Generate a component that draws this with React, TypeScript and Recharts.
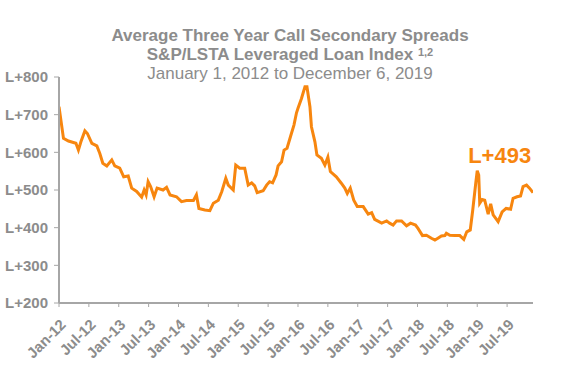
import { LineChart, Line, XAxis, YAxis, ReferenceDot } from "recharts";

// months since Jan 1, 2012
const months = [
  0, 0.9, 1.9, 3.4, 3.9, 4.4, 5.2, 5.7, 6.6, 7.6, 8.2, 8.8, 9.6, 10.6, 11.2,
  12.2, 13.0, 13.9, 14.6, 15.6, 16.6, 17.1, 17.5, 17.9, 18.4, 19.1, 19.7, 20.9,
  21.6, 22.3, 23.6, 24.6, 25.6, 27.0, 27.6, 28.1, 29.3, 30.3, 31.0, 32.0, 32.7,
  33.5, 34.0, 35.0, 35.5, 36.3, 37.3, 38.0, 38.7, 39.3, 39.8, 41.0, 41.7, 42.3,
  42.9, 43.6, 44.0, 44.7, 45.2, 45.8, 46.5, 47.2, 47.7, 48.0, 48.7, 49.4, 49.8,
  50.4, 50.7, 51.4, 51.8, 52.7, 53.4, 54.0, 54.5, 55.7, 56.7, 57.4, 57.9, 58.5,
  59.2, 59.9, 61.1, 62.1, 62.8, 63.4, 64.8, 65.8, 66.4, 67.1, 67.8, 68.8, 69.8,
  70.6, 71.6, 72.1, 73.0, 73.8, 74.8, 75.5, 76.1, 76.8, 77.5, 77.8, 78.5, 79.5,
  80.5, 81.3, 81.9, 82.6, 83.1, 83.7, 84.0, 84.3, 84.5, 85.0, 85.5, 86.2, 86.7,
  87.2, 88.2, 89.0, 89.8, 90.7, 91.2, 92.0, 92.7, 93.2, 93.9, 94.5, 95.2,
];

const spreads = [
  721, 637, 630, 624, 606, 628, 657, 650, 624, 617, 597, 571, 564, 580, 564,
  558, 535, 537, 505, 496, 481, 500, 487, 522, 509, 482, 505, 500, 507, 487,
  482, 469, 472, 472, 487, 451, 447, 445, 465, 473, 496, 531, 513, 500, 566,
  558, 558, 513, 519, 511, 493, 498, 513, 522, 519, 540, 564, 575, 606, 611,
  642, 673, 705, 717, 743, 774, 774, 721, 668, 628, 593, 584, 566, 587, 549,
  535, 518, 505, 491, 505, 473, 456, 456, 436, 440, 422, 412, 418, 412, 407,
  418, 418, 405, 412, 407, 398, 379, 380, 372, 367, 372, 378, 379, 385, 380,
  379, 379, 369, 389, 394, 447, 518, 551, 540, 465, 475, 473, 436, 463, 434,
  416, 442, 451, 449, 478, 482, 484, 509, 513, 505, 493,
];

const yTicks = [200, 300, 400, 500, 600, 700, 800];
const xTicks = [0, 6, 12, 18, 24, 30, 36, 42, 48, 54, 60, 66, 72, 78, 84, 90];
const xLabels = [
  "Jan-12", "Jul-12", "Jan-13", "Jul-13", "Jan-14", "Jul-14", "Jan-15", "Jul-15",
  "Jan-16", "Jul-16", "Jan-17", "Jul-17", "Jan-18", "Jul-18", "Jan-19", "Jul-19",
];

const data = months.map((m, i) => ({ m, spread: spreads[i] }));

const GRAY = "#8c8c8c";
const AXIS = "#a6a6a6";
const ORANGE = "#f7860f";
const FONT = "'Liberation Sans', Arial, sans-serif";

function XTick({ x, y, payload }: any) {
  const label = xLabels[xTicks.indexOf(payload.value)] ?? "";
  return (
    <g transform={`translate(${x + 4},${y + 13})`}>
      <text
        x={0}
        y={0}
        textAnchor="end"
        transform="rotate(-45)"
        fill={GRAY}
        fontSize={15}
        fontWeight="bold"
        fontFamily={FONT}
        dy="0.35em"
      >
        {label}
      </text>
    </g>
  );
}

export default function App() {
  return (
    <div
      style={{
        position: "absolute",
        left: 0,
        top: 0,
        width: 568,
        height: 382,
        background: "#fff",
        fontFamily: FONT,
      }}
    >
      <div
        style={{
          position: "absolute",
          left: 0,
          width: 580,
          top: 26,
          textAlign: "center",
          color: GRAY,
          lineHeight: "19px",
        }}
      >
        <div style={{ fontSize: 17, fontWeight: "bold" }}>
          Average Three Year Call Secondary Spreads
        </div>
        <div style={{ fontSize: 17, fontWeight: "bold" }}>
          S&amp;P/LSTA Leveraged Loan Index{" "}
          <span
            style={{
              fontSize: 11,
              position: "relative",
              top: -4,
              lineHeight: "11px",
              display: "inline-block",
            }}
          >
            1,2
          </span>
        </div>
        <div style={{ fontSize: 17 }}>January 1, 2012 to December 6, 2019</div>
      </div>
      <LineChart
        width={568}
        height={382}
        data={data}
        margin={{ top: 77, right: 35, bottom: 19, left: 0 }}
      >
        <XAxis
          dataKey="m"
          type="number"
          domain={[0, 95.2]}
          ticks={xTicks}
          interval={0}
          tick={<XTick />}
          height={60}
          axisLine={{ stroke: AXIS, strokeWidth: 2 }}
          tickLine={{ stroke: AXIS }}
          tickSize={4}
          allowDataOverflow
        />
        <YAxis
          type="number"
          domain={[200, 800]}
          ticks={yTicks}
          interval={0}
          width={59}
          tickFormatter={(v: number) => `L+${v}`}
          tick={{ fill: GRAY, fontSize: 15, fontWeight: "bold", fontFamily: FONT }}
          axisLine={{ stroke: AXIS, strokeWidth: 2 }}
          tickLine={{ stroke: AXIS }}
          tickSize={5}
          tickMargin={6}
        />
        <Line
          type="linear"
          dataKey="spread"
          stroke={ORANGE}
          strokeWidth={3}
          dot={false}
          isAnimationActive={false}
        />
        <ReferenceDot
          x={88.5}
          y={593}
          r={0}
          label={{
            value: "L+493",
            position: "center",
            fill: ORANGE,
            fontSize: 22,
            fontWeight: "bold",
            fontFamily: FONT,
          }}
        />
      </LineChart>
    </div>
  );
}
